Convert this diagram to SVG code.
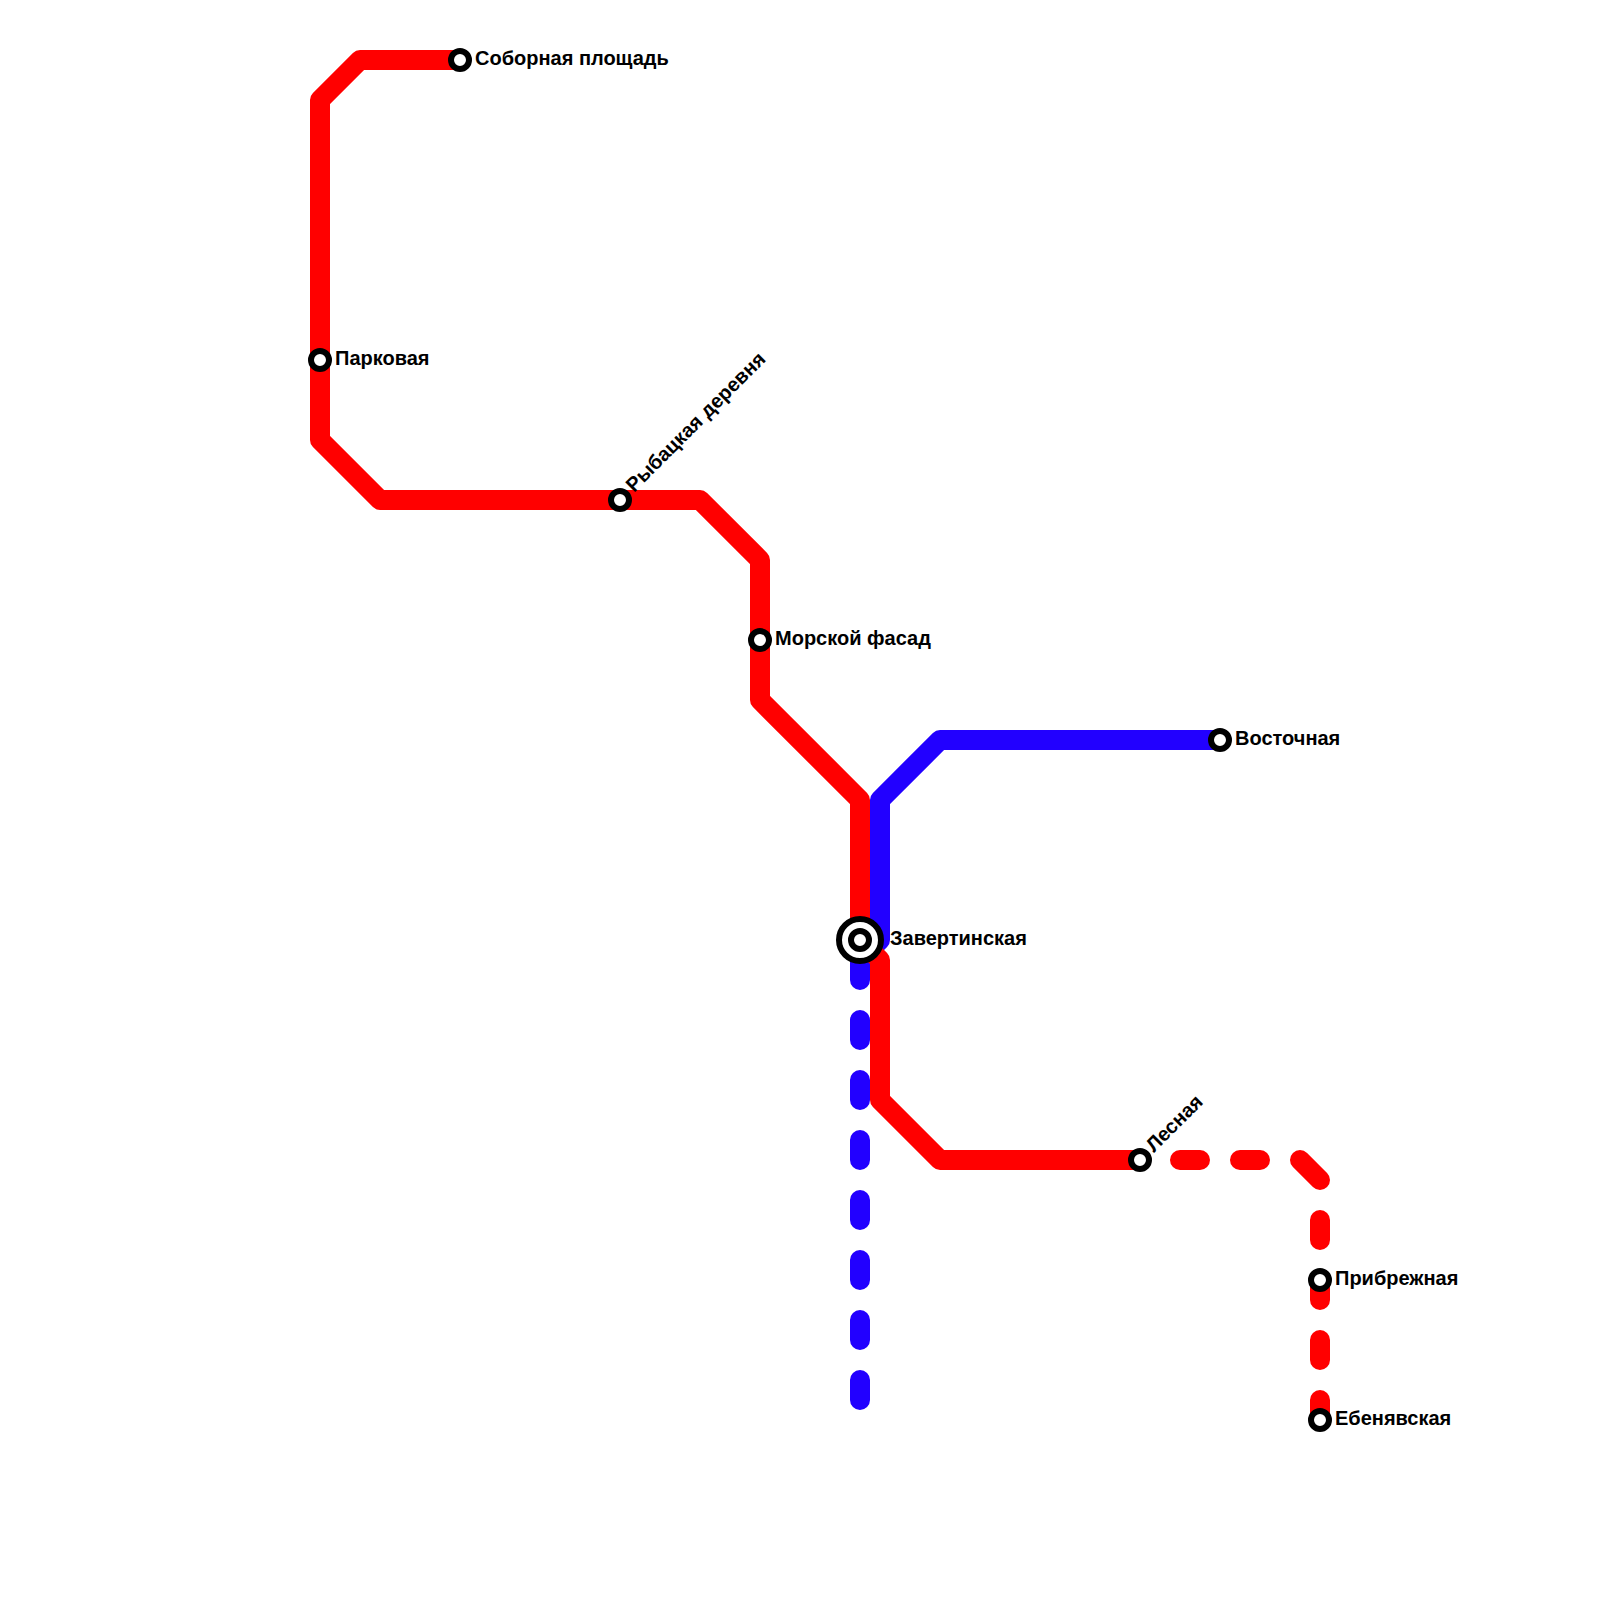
<svg xmlns="http://www.w3.org/2000/svg" width="1600" height="1600" viewBox="0 0 1600 1600">
<style>
.line{fill:none;stroke-width:20;stroke-linecap:round;stroke-linejoin:round}
.red{stroke:#ff0000}
.blue{stroke:#2200ff}
.dash{stroke-dasharray:20 40}
.st{fill:#fff;stroke:#000;stroke-width:6}
text{font-family:"Liberation Sans",Arial,sans-serif;font-weight:700;font-size:20px;fill:#000}
</style>
<rect width="1600" height="1600" fill="#fff"/>
<g id="connectors">
<path class="line blue" d="M1220 740H940L880 800V940L860 960"/>
<path class="line blue dash" d="M860 960V1400"/>
<path class="line red" d="M460 60H360L320 100V440L380 500H700L760 560V700L860 800V940L880 960V1100L940 1160H1140"/>
<path class="line red" style="stroke-dasharray:0 40 20 40 20 40 28.28 40 20 40 20 40 20 40 20 40" d="M1140 1160H1300L1320 1180V1420"/>
</g>
<g id="st-sobornaya"><circle class="st" cx="460" cy="60" r="9"/><text x="475" y="65">Соборная площадь</text></g>
<g id="st-parkovaya"><circle class="st" cx="320" cy="360" r="9"/><text x="335" y="365">Парковая</text></g>
<g id="st-rybatskaya"><circle class="st" cx="620" cy="500" r="9"/><text transform="translate(634 493) rotate(-45)">Рыбацкая деревня</text></g>
<g id="st-morskoy"><circle class="st" cx="760" cy="640" r="9"/><text x="775" y="645">Морской фасад</text></g>
<g id="st-zavertinskaya"><circle class="st" cx="860" cy="940" r="21"/><circle class="st" cx="860" cy="940" r="9"/><text x="890" y="945">Завертинская</text></g>
<g id="st-vostochnaya"><circle class="st" cx="1220" cy="740" r="9"/><text x="1235" y="745">Восточная</text></g>
<g id="st-lesnaya"><circle class="st" cx="1140" cy="1160" r="9"/><text transform="translate(1154 1153) rotate(-45)">Лесная</text></g>
<g id="st-pribrezhnaya"><circle class="st" cx="1320" cy="1280" r="9"/><text x="1335" y="1285">Прибрежная</text></g>
<g id="st-ebenyavskaya"><circle class="st" cx="1320" cy="1420" r="9"/><text x="1335" y="1425">Ебенявская</text></g>
</svg>
